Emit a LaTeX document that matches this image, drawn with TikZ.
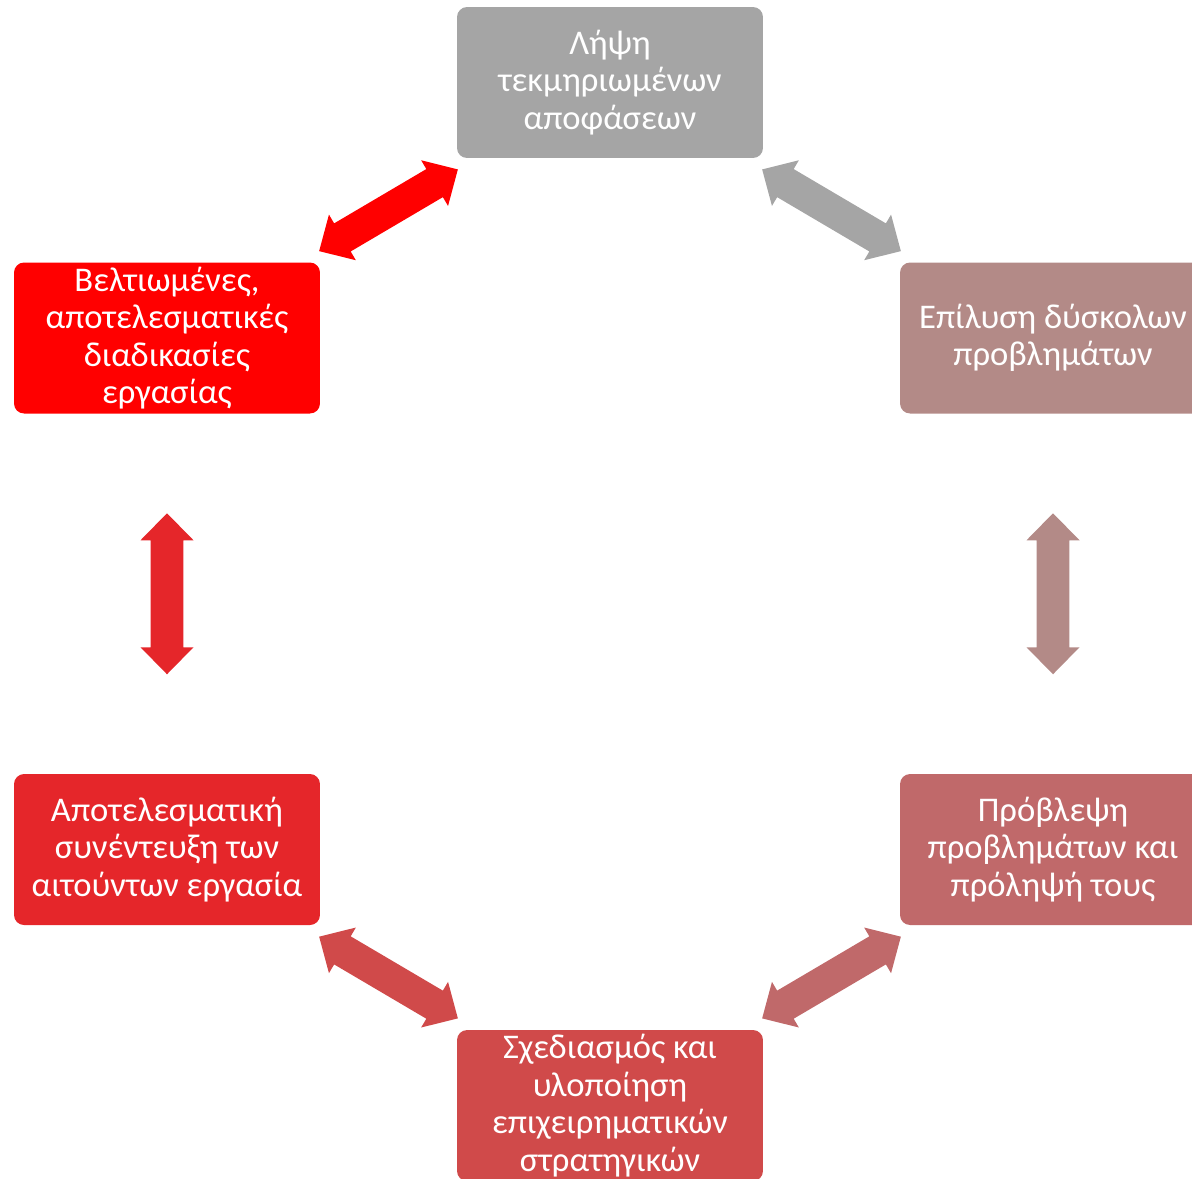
\documentclass[tikz,border=0pt]{standalone}
\usepackage{fontspec}
\setmainfont{Carlito}
\usepackage{xcolor}
\usepackage{tikz}
\usetikzlibrary{calc,positioning}
\definecolor{cgray}{HTML}{A5A5A5}
\definecolor{crose}{HTML}{B38A87}
\definecolor{cpink}{HTML}{C0696A}
\definecolor{cbrick}{HTML}{D04A4A}
\definecolor{cred}{HTML}{E5262A}
\definecolor{cpure}{HTML}{FF0000}
\newcommand{\dblarrow}[3]{%
  \fill[#1, shift={#2}, rotate=#3] (-80.5,0) -- (-53.5,26.5) -- (-53.5,16.3) -- (53.5,16.3)
    -- (53.5,26.5) -- (80.5,0) -- (53.5,-26.5) -- (53.5,-16.3) -- (-53.5,-16.3) -- (-53.5,-26.5) -- cycle;}

\begin{document}
\begin{tikzpicture}[x=0.02cm, y=-0.02cm,
  box/.style={rectangle, rounded corners=0.2cm, minimum width=6.12cm, minimum height=3.02cm,
    inner sep=0pt, align=center, text=white, font=\fontsize{19.7}{21.3}\selectfont}]
\useasboundingbox (0,0) rectangle (1192,1178);
\clip (0,0) rectangle (1192,1178);
\node[box, fill=cgray] (top) at (610,82.5) {Λήψη\\τεκμηριωμένων\\αποφάσεων};
\node[box, fill=crose] (rt) at (1053,338) {Επίλυση δύσκολων\\προβλημάτων};
\node[box, fill=cpink] (rb) at (1053,849.5) {Πρόβλεψη\\προβλημάτων και\\πρόληψή τους};
\node[box, fill=cbrick] (bot) at (610,1105.5) {Σχεδιασμός και\\υλοποίηση\\επιχειρηματικών\\στρατηγικών};
\node[box, fill=cred] (lb) at (167,849.5) {Αποτελεσματική\\συνέντευξη των\\αιτούντων εργασία};
\node[box, fill=cpure] (lt) at (167,338) {Βελτιωμένες,\\αποτελεσματικές\\διαδικασίες\\εργασίας};
\dblarrow{cgray}{($(top.south east)!0.5!(rt.north west)$)}{-30.5}
\dblarrow{crose}{($(rt.south)!0.5!(rb.north)$)}{90}
\dblarrow{cpink}{($(rb.south west)!0.5!(bot.north east)$)}{30.5}
\dblarrow{cbrick}{($(bot.north west)!0.5!(lb.south east)$)}{-30.5}
\dblarrow{cred}{($(lb.north)!0.5!(lt.south)$)}{90}
\dblarrow{cpure}{($(lt.north east)!0.5!(top.south west)$)}{30.5}
\end{tikzpicture}
\end{document}
